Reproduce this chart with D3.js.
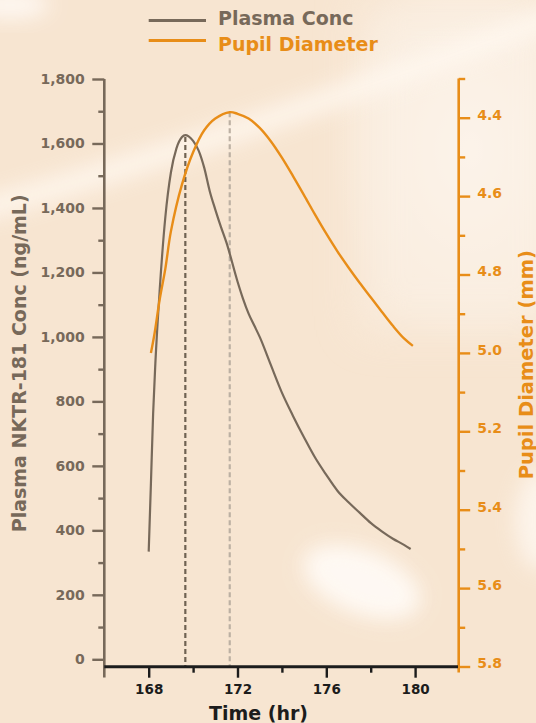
<!DOCTYPE html>
<html>
<head>
<meta charset="utf-8">
<script src="https://cdn.jsdelivr.net/npm/d3@7"></script>
<style>
  html, body { margin: 0; padding: 0; background: #f7e5d2; }
  svg { display: block; }
  text { font-family: "DejaVu Sans", sans-serif; font-weight: bold; }
</style>
</head>
<body>
<svg id="chart" width="536" height="723"></svg>
<script>
// ---- data ----
const plasmaTime = [168, 168.1, 168.2, 168.3, 168.5, 168.75, 169, 169.25, 169.5, 169.65, 169.8, 170, 170.25, 170.5, 170.75, 171, 171.25, 171.5, 172, 172.25, 172.5, 172.75, 173, 173.5, 174, 174.5, 175, 175.5, 176, 176.5, 177, 177.5, 178, 178.5, 179, 179.5, 179.8];
const plasmaConc = [334, 545, 763, 918, 1150, 1372, 1510, 1585, 1620, 1626, 1622, 1608, 1578, 1525, 1452, 1395, 1342, 1293, 1172, 1118, 1072, 1036, 1000, 913, 827, 755, 688, 625, 572, 523, 487, 455, 423, 397, 374, 355, 342];

const pupilTime = [168.1, 168.25, 168.5, 168.75, 169, 169.5, 170, 170.5, 171, 171.65, 172, 172.5, 173, 173.5, 174, 174.5, 175, 175.5, 176, 176.5, 177, 177.5, 178, 178.5, 179, 179.5, 179.9];
const pupilDiam = [5.00, 4.955, 4.862, 4.785, 4.690, 4.570, 4.488, 4.432, 4.402, 4.386, 4.390, 4.402, 4.426, 4.460, 4.502, 4.549, 4.598, 4.648, 4.696, 4.741, 4.782, 4.821, 4.858, 4.895, 4.931, 4.963, 4.982];

const peakTimes = [169.65, 171.65];

const xTicks = [168, 170, 172, 174, 176, 178, 180];
const xLabelTicks = [168, 172, 176, 180];
const leftTicks = d3.range(0, 1801, 100);
const rightTicks = d3.range(43, 59).map(d => d / 10);
const legendLabels = ["Plasma Conc", "Pupil Diameter"];

// ---- styles ----
const GRAY = "#77695a";
const ORANGE = "#e88d18";
const BLACK = "#1c1c1c";

const svg = d3.select("#chart");

// ---- background ----
const defs = svg.append("defs");
const blur = defs.append("filter").attr("id", "blur").attr("x", "-50%").attr("y", "-50%").attr("width", "200%").attr("height", "200%");
blur.append("feGaussianBlur").attr("stdDeviation", 10);
const blur2 = defs.append("filter").attr("id", "blur2").attr("x", "-50%").attr("y", "-50%").attr("width", "200%").attr("height", "200%");
blur2.append("feGaussianBlur").attr("stdDeviation", 22);
const rg = defs.append("radialGradient").attr("id", "rgw");
rg.append("stop").attr("offset", "0%").attr("stop-color", "#fffaf4").attr("stop-opacity", 0.9);
rg.append("stop").attr("offset", "100%").attr("stop-color", "#fffaf4").attr("stop-opacity", 0);

svg.append("rect").attr("width", 536).attr("height", 723).attr("fill", "#f7e5d1");
const bg = svg.append("g");
bg.append("ellipse").attr("cx", 470).attr("cy", 150).attr("rx", 140).attr("ry", 200).attr("fill", "url(#rgw)");
bg.append("rect").attr("x", 360).attr("y", 0).attr("width", 200).attr("height", 330).attr("fill", "#fbf1e6").attr("opacity", 0.6).attr("filter", "url(#blur2)");
bg.append("path").attr("d", "M-20,210 Q230,140 560,15").attr("fill", "none").attr("stroke", "#fff8f0").attr("stroke-width", 24).attr("opacity", 0.8).attr("filter", "url(#blur)");
bg.append("ellipse").attr("cx", 10).attr("cy", 5).attr("rx", 40).attr("ry", 14).attr("fill", "#fffaf5").attr("opacity", 0.9).attr("filter", "url(#blur)");
bg.append("ellipse").attr("cx", 362).attr("cy", 582).attr("rx", 62).attr("ry", 32).attr("transform", "rotate(22,362,582)").attr("fill", "#fffaf5").attr("opacity", 0.95).attr("filter", "url(#blur)");
bg.append("ellipse").attr("cx", 540).attr("cy", 520).attr("rx", 25).attr("ry", 50).attr("fill", "#fffaf5").attr("opacity", 0.7).attr("filter", "url(#blur)");

// ---- scales ----
const x = d3.scaleLinear().domain([166, 182]).range([104.3, 459.5]);
const yL = d3.scaleLinear().domain([0, 1800]).range([659.3, 79]);
const yR = d3.scaleLinear().domain([4.3, 5.8]).range([78.5, 666.5]);

// ---- dashed peak markers ----
const plasmaAt = t => plasmaConc[plasmaTime.indexOf(t)];
const pupilAt = t => pupilDiam[pupilTime.indexOf(t)];
svg.append("line")
  .attr("x1", x(peakTimes[0])).attr("x2", x(peakTimes[0]))
  .attr("y1", yL(plasmaAt(peakTimes[0])) + 2).attr("y2", 666)
  .attr("stroke", "#6f6252").attr("stroke-width", 2.2).attr("stroke-dasharray", "5,3");
svg.append("line")
  .attr("x1", x(peakTimes[1])).attr("x2", x(peakTimes[1]))
  .attr("y1", yR(pupilAt(peakTimes[1]))).attr("y2", 666)
  .attr("stroke", "#bcb0a3").attr("stroke-width", 2.2).attr("stroke-dasharray", "5,3");

// ---- lines ----
const plasmaData = plasmaTime.map((t, i) => [t, plasmaConc[i]]);
const pupilData = pupilTime.map((t, i) => [t, pupilDiam[i]]);

svg.append("path").datum(plasmaData)
  .attr("fill", "none").attr("stroke", GRAY).attr("stroke-width", 2.2)
  .attr("d", d3.line().x(d => x(d[0])).y(d => yL(d[1])).curve(d3.curveMonotoneX));
svg.append("path").datum(pupilData)
  .attr("fill", "none").attr("stroke", ORANGE).attr("stroke-width", 2.4)
  .attr("d", d3.line().x(d => x(d[0])).y(d => yR(d[1])).curve(d3.curveCatmullRom.alpha(0.5)));

// ---- left axis ----
const gL = svg.append("g").attr("transform", `translate(${x(166)},0)`);
gL.call(d3.axisLeft(yL).tickValues(leftTicks).tickSizeOuter(0)
  .tickFormat(d => d % 200 === 0 ? d3.format(",")(d) : ""));
gL.select(".domain").remove();
gL.append("line").attr("x1", 0).attr("x2", 0).attr("y1", 79).attr("y2", 677.5)
  .attr("stroke", GRAY).attr("stroke-width", 2.6);
gL.selectAll(".tick line").attr("stroke", GRAY).attr("stroke-width", 2.4)
  .attr("x2", d => d % 200 === 0 ? -12 : -6);
gL.selectAll(".tick text").attr("x", -19.5).attr("fill", GRAY)
  .style("font-family", "DejaVu Sans").style("font-weight", "bold").style("font-size", "14px");

// ---- right axis ----
const gR = svg.append("g").attr("transform", `translate(${x(182) - 0.8},0)`);
gR.call(d3.axisRight(yR).tickValues(rightTicks).tickSizeOuter(0)
  .tickFormat(d => Math.round(d * 10) % 2 === 0 ? d3.format(".1f")(d) : ""));
gR.select(".domain").remove();
gR.append("line").attr("x1", 0).attr("x2", 0).attr("y1", 78.5).attr("y2", 672.5)
  .attr("stroke", ORANGE).attr("stroke-width", 2.6);
gR.selectAll(".tick line").attr("stroke", ORANGE).attr("stroke-width", 2.4)
  .attr("x2", d => Math.round(d * 10) % 2 === 0 ? 11.5 : 6.5);
gR.selectAll(".tick text").attr("x", 18.6).attr("y", -3).attr("fill", ORANGE)
  .style("font-family", "DejaVu Sans").style("font-weight", "bold").style("font-size", "14px");

// ---- x axis ----
const gX = svg.append("g").attr("transform", "translate(0,666.7)");
gX.call(d3.axisBottom(x).tickValues(xTicks).tickSizeOuter(0)
  .tickFormat(d => xLabelTicks.includes(d) ? d : ""));
gX.select(".domain").remove();
gX.append("line").attr("x1", x(166)).attr("x2", x(182) - 1.5).attr("y1", 0).attr("y2", 0)
  .attr("stroke", BLACK).attr("stroke-width", 3);
gX.selectAll(".tick line").attr("stroke", BLACK).attr("stroke-width", 2.4)
  .attr("y2", d => xLabelTicks.includes(d) ? 11 : 6);
gX.selectAll(".tick text").attr("y", 27.5).attr("dy", 0).attr("fill", BLACK)
  .style("font-family", "DejaVu Sans").style("font-weight", "bold").style("font-size", "13.5px");

// ---- axis titles ----
svg.append("text").attr("transform", "translate(26,363.3) rotate(-90)")
  .attr("text-anchor", "middle").attr("fill", GRAY).style("font-size", "19px")
  .text("Plasma NKTR-181 Conc (ng/mL)");
svg.append("text").attr("transform", "translate(532.5,364.7) rotate(-90)")
  .attr("text-anchor", "middle").attr("fill", ORANGE).style("font-size", "19.5px")
  .text("Pupil Diameter (mm)");
svg.append("text").attr("x", 258.5).attr("y", 720)
  .attr("text-anchor", "middle").attr("fill", BLACK).style("font-size", "19px")
  .text("Time (hr)");

// ---- legend ----
const legendColors = [GRAY, ORANGE];
const legendY = [20.5, 40.5];
const legendBase = [25.3, 51.3];
legendLabels.forEach((lab, i) => {
  svg.append("line").attr("x1", 148.7).attr("x2", 206).attr("y1", legendY[i]).attr("y2", legendY[i])
    .attr("stroke", legendColors[i]).attr("stroke-width", 2.8);
  svg.append("text").attr("x", 218).attr("y", legendBase[i]).attr("fill", legendColors[i])
    .style("font-size", "19px").text(lab);
});
</script>
</body>
</html>
